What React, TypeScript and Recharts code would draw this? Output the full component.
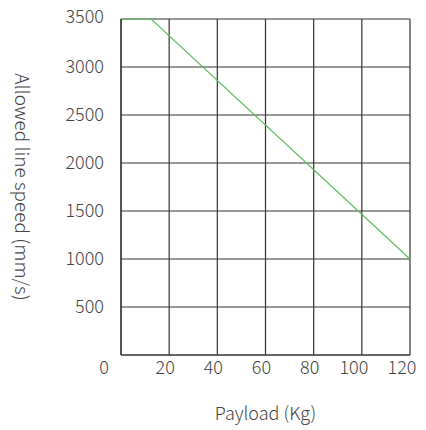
import { LineChart, Line, XAxis, YAxis, CartesianGrid, Label } from 'recharts';

const payloads = [0, 12.5, 120];
const speeds = [3500, 3500, 1000];
const xTicks = [0, 20, 40, 60, 80, 100, 120];
const yTicks = [0, 500, 1000, 1500, 2000, 2500, 3000, 3500];

const data = payloads.map((p, i) => ({ payload: p, speed: speeds[i] }));

const font = '"Noto Sans CJK SC", "Noto Sans", sans-serif';
const textColor = '#444';

function XTick(props: any) {
  const { x, y, payload } = props;
  const v = payload.value;
  const shift = v === 0 ? -17 : v >= 100 ? -8 : -4;
  return (
    <text x={x + shift} y={y} dy="0.71em" textAnchor="middle" fill={textColor} fontSize={18} fontWeight={300} fontFamily={font}>
      {v}
    </text>
  );
}

function YTick(props: any) {
  const { x, y, payload } = props;
  if (payload.value === 0) return null;
  // top label sits a little above its gridline, as in the original
  const up = payload.value === 3500 ? -2 : 0;
  return (
    <text x={x} y={y + up} dy="0.355em" textAnchor="end" fill={textColor} fontSize={18} fontWeight={300} fontFamily={font}>
      {payload.value}
    </text>
  );
}

export default function App() {
  return (
    <div style={{ position: 'absolute', left: 0, top: 0, width: 426, height: 430, background: '#fff' }}>
      <LineChart width={426} height={430} data={data} margin={{ top: 19, right: 16, left: 0, bottom: 0 }}>
        <CartesianGrid stroke="#333" strokeWidth={1.2} />
        <XAxis
          dataKey="payload"
          type="number"
          domain={[0, 120]}
          ticks={xTicks}
          height={75}
          tickLine={false}
          tickSize={0}
          tickMargin={6}
          axisLine={{ stroke: '#333', strokeWidth: 1.2 }}
          tick={<XTick />}
        >
          <Label value="Payload (Kg)" position="insideBottom" offset={10} fill={textColor} fontSize={18} fontWeight={300} fontFamily={font} />
        </XAxis>
        <YAxis
          type="number"
          domain={[0, 3500]}
          ticks={yTicks}
          width={121}
          tickLine={false}
          tickSize={0}
          tickMargin={17}
          axisLine={{ stroke: '#333', strokeWidth: 1.2 }}
          tick={<YTick />}
        >
          <Label
            value="Allowed line speed (mm/s)"
            angle={90}
            position="insideLeft"
            offset={22}
            style={{ textAnchor: 'middle' }}
            fill={textColor}
            fontSize={19}
            fontWeight={300}
            fontFamily={font}
          />
        </YAxis>
        <Line type="linear" dataKey="speed" stroke="#5cbf5c" strokeWidth={1.2} dot={false} isAnimationActive={false} />
      </LineChart>
    </div>
  );
}
